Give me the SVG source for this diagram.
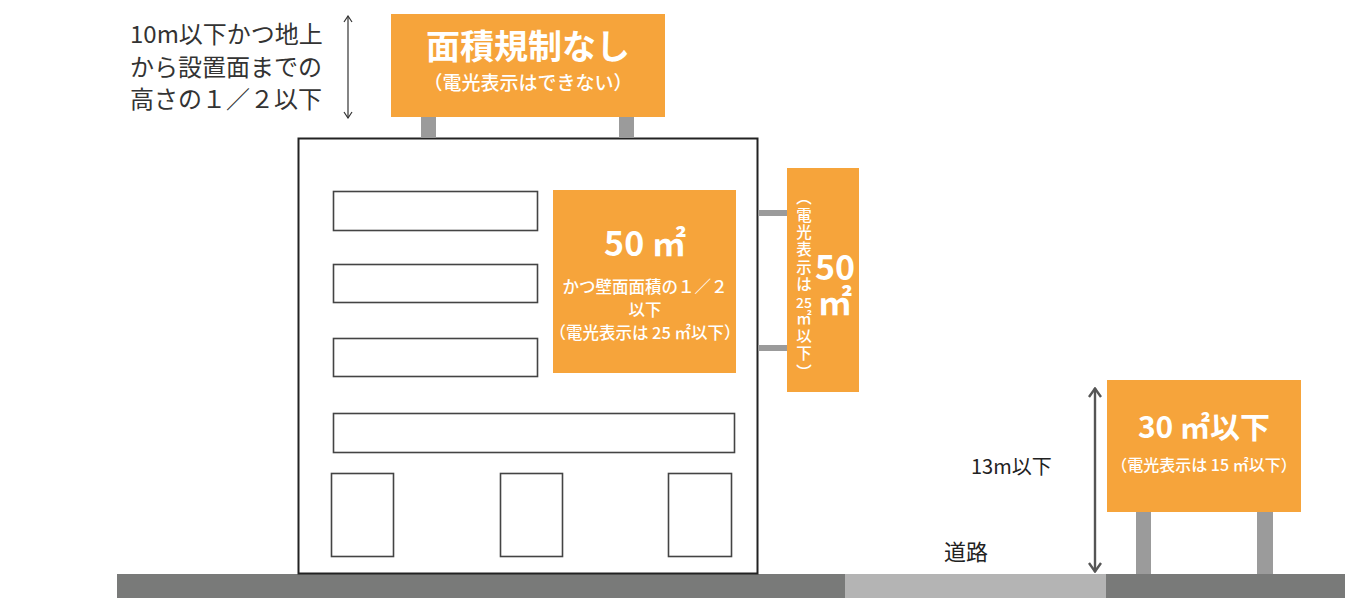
<svg xmlns="http://www.w3.org/2000/svg" width="1345" height="598" viewBox="0 0 1345 598">
<style>
.sign{fill:#f6a43b}
.pole{fill:#9b9b9b}
.win{fill:#fff;stroke:#444;stroke-width:1.6}
.jp{font-family:"Noto Sans CJK JP","Noto Sans",sans-serif}
.w{fill:#fff}
.dark{fill:#2b2b2b}
</style>
<defs>
<marker id="ah1" viewBox="0 0 10 10" refX="9" refY="5" markerWidth="10" markerHeight="10" markerUnits="userSpaceOnUse" orient="auto-start-reverse">
<path d="M3,1 L9,5 L3,9" fill="none" stroke="#333" stroke-width="1.2"/>
</marker>
<marker id="ah2" viewBox="0 0 12 16" refX="11" refY="8" markerWidth="12" markerHeight="16" markerUnits="userSpaceOnUse" orient="auto-start-reverse">
<path d="M2,2 L10.5,8 L2,14" fill="none" stroke="#555" stroke-width="2.4"/>
</marker>
</defs>
<rect width="1345" height="598" fill="#fff"/>
<!-- ground -->
<g id="ground">
<rect x="117" y="574" width="728" height="24" fill="#797a79"/>
<rect x="845" y="574" width="261" height="24" fill="#b4b4b4"/>
<rect x="1106" y="574" width="239" height="24" fill="#797a79"/>
</g>
<!-- building -->
<g id="building">
<rect x="298.5" y="138.5" width="459" height="435" fill="#fff" stroke="#222" stroke-width="2"/>
<rect class="win" x="333.5" y="191.5" width="204" height="39"/>
<rect class="win" x="333.5" y="264.5" width="204" height="38"/>
<rect class="win" x="333.5" y="338.5" width="204" height="38"/>
<rect class="win" x="333.5" y="413.5" width="401" height="39"/>
<rect class="win" x="331.5" y="473.5" width="62" height="83"/>
<rect class="win" x="500.5" y="473.5" width="62" height="83"/>
<rect class="win" x="668.5" y="473.5" width="63" height="83"/>
</g>
<!-- roof sign -->
<g id="roof-sign">
<rect class="pole" x="421" y="117" width="15" height="21"/>
<rect class="pole" x="619" y="117" width="15" height="21"/>
<rect class="sign" x="391" y="14" width="274" height="103"/>
<text class="jp w" x="528" y="59" font-size="34" font-weight="700" text-anchor="middle">面積規制なし</text>
<text class="jp w" x="528" y="90" font-size="19" font-weight="500" text-anchor="middle">（電光表示はできない）</text>
</g>
<!-- wall sign -->
<g id="wall-sign">
<rect class="sign" x="553" y="190" width="183" height="183"/>
<text class="jp w" x="645" y="256" font-size="34" font-weight="700" text-anchor="middle">50 ㎡</text>
<text class="jp w" x="645" y="293" font-size="16.5" font-weight="500" text-anchor="middle">かつ壁面面積の１／２</text>
<text class="jp w" x="645" y="316" font-size="16.5" font-weight="500" text-anchor="middle">以下</text>
<text class="jp w" x="645" y="339" font-size="16.5" font-weight="500" text-anchor="middle">（電光表示は 25 ㎡以下）</text>
</g>
<!-- projecting sign -->
<g id="projecting-sign">
<rect class="pole" x="758" y="210" width="29" height="6"/>
<rect class="pole" x="758" y="345" width="29" height="6"/>
<rect class="sign" x="787" y="168" width="72" height="224"/>
<g class="jp w" font-size="15.5" font-weight="500" text-anchor="middle">
<text x="804" y="203">︵</text>
<text x="804" y="221">電</text>
<text x="804" y="238">光</text>
<text x="804" y="255">表</text>
<text x="804" y="273">示</text>
<text x="804" y="290">は</text>
<text x="804" y="308" font-size="14">25</text>
<text x="804" y="324">㎡</text>
<text x="804" y="342">以</text>
<text x="804" y="359">下</text>
<text x="804" y="378">︶</text>
</g>
<text class="jp w" x="835" y="280" font-size="34" font-weight="700" text-anchor="middle">50</text>
<text class="jp w" x="835" y="315" font-size="34" font-weight="700" text-anchor="middle">㎡</text>
</g>
<!-- pole sign -->
<g id="pole-sign">
<rect class="pole" x="1136" y="512" width="15" height="62"/>
<rect class="pole" x="1257" y="512" width="16" height="62"/>
<rect class="sign" x="1107" y="380" width="194" height="132"/>
<text class="jp w" x="1204" y="438" font-size="30" font-weight="700" text-anchor="middle">30 ㎡以下</text>
<text class="jp w" x="1204" y="471" font-size="16" font-weight="500" text-anchor="middle">（電光表示は 15 ㎡以下）</text>
</g>
<!-- labels -->
<g id="labels" class="jp dark">
<text x="130" y="43" font-size="24" fill="#333">10m以下かつ地上</text>
<text x="130" y="76" font-size="24" fill="#333">から設置面までの</text>
<text x="130" y="108" font-size="24" fill="#333">高さの１／２以下</text>
<text x="971" y="474" font-size="20" fill="#222">13m以下</text>
<text x="944" y="560" font-size="22" fill="#222">道路</text>
</g>
<!-- connectors -->
<g id="connectors" fill="none">
<line x1="348" y1="16" x2="348" y2="118" stroke="#333" stroke-width="1.2" marker-start="url(#ah1)" marker-end="url(#ah1)"/>
<line x1="1095" y1="388" x2="1095" y2="572" stroke="#555" stroke-width="2.4" marker-start="url(#ah2)" marker-end="url(#ah2)"/>
</g>
</svg>
